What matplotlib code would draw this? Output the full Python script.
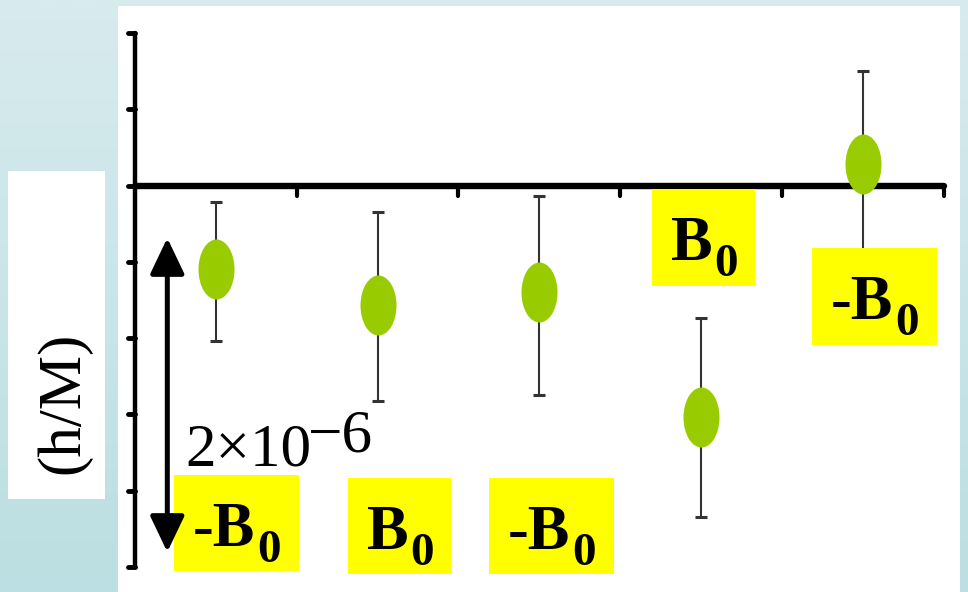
import numpy as np
import matplotlib
matplotlib.use("Agg")
import matplotlib.pyplot as plt
from matplotlib.path import Path
from matplotlib.markers import MarkerStyle, TICKLEFT, TICKDOWN
from matplotlib.patches import Rectangle, FancyArrowPatch, ArrowStyle
from matplotlib.transforms import Affine2D

# ---- data (units of 1e-6) ----
positions = [0.5, 1.5, 2.5, 3.5, 4.5]
field_labels = ["-B", "B", "-B", "B", "-B"]
values = [-0.55, -0.78, -0.70, -1.52, 0.14]
err_low = [0.47, 0.63, 0.67, 0.65, 0.61]
err_high = [0.44, 0.61, 0.63, 0.65, 0.61]
scale_text = "2\u00d710"
scale_exp = "\u22126"
y_label = "(h/M)"

W, H = 968, 592
fig = plt.figure(figsize=(W / 100, H / 100), dpi=100)

# ---- background: soft teal gradient and white panel ----
bg = fig.add_axes([0, 0, 1, 1], zorder=-5)
bg.set_xlim(0, W)
bg.set_ylim(H, 0)
bg.axis("off")
top_c = np.array([216, 235, 238]) / 255
bot_c = np.array([187, 223, 226]) / 255
t = np.linspace(0, 1, 256)[:, None]
grad = (top_c[None, :] * (1 - t) + bot_c[None, :] * t)[:, None, :]
bg.imshow(grad, extent=(0, W, H, 0), aspect="auto", interpolation="bilinear")
bg.add_patch(Rectangle((118, 6), 842, 586, facecolor="white", edgecolor="none"))
bg.add_patch(Rectangle((8, 171), 97, 328, facecolor="white", edgecolor="none"))
bg.text(63.5, 403, y_label, rotation=90, ha="center", va="center",
        family="Liberation Serif", fontsize=44, color="black")

# ---- main axes ----
x0, x1 = 135, 943.5
y0, y1 = 33, 567
ax = fig.add_axes([x0 / W, 1 - y1 / H, (x1 - x0) / W, (y1 - y0) / H], zorder=1)
ax.set_facecolor("none")
ax.set_xlim(0, 5)
ax.set_ylim(-2.5, 1.0)

for s in ("top", "right"):
    ax.spines[s].set_visible(False)
ax.spines["bottom"].set_position(("data", 0))
ax.spines["bottom"].set_linewidth(4.6)
ax.spines["left"].set_linewidth(3.2)
for s in ("bottom", "left"):
    ax.spines[s].set_capstyle("round")

ax.set_xticks([1, 2, 3, 4, 5])
ax.set_yticks(np.arange(-2.5, 1.01, 0.5))
ax.tick_params(axis="x", direction="out", length=7.5, width=3, labelbottom=False)
ax.tick_params(axis="y", direction="out", length=5, width=3.5, labelleft=False)
# rounded tick ends
for tk in ax.yaxis.get_major_ticks():
    tk.tick1line.set_marker(MarkerStyle(TICKLEFT, capstyle="round"))
for tk in ax.xaxis.get_major_ticks():
    tk.tick1line.set_marker(MarkerStyle(TICKDOWN, capstyle="round"))

ax.errorbar(positions, values, yerr=[err_low, err_high], fmt="none",
            ecolor="#333333", elinewidth=1.5, capsize=4.3, capthick=2.2, zorder=3)

ell = Path.unit_circle().transformed(Affine2D().scale(0.6, 1.0))
ax.plot(positions, values, linestyle="none", marker=MarkerStyle(ell),
        markersize=43.2, markerfacecolor="#99CC00", markeredgecolor="none",
        zorder=4)

# ---- overlay: field labels, scale arrow ----
ov = fig.add_axes([0, 0, 1, 1], zorder=5)
ov.set_xlim(0, W)
ov.set_ylim(H, 0)
ov.axis("off")
ov.patch.set_visible(False)

# label boxes (left, top, width, height) in pixels
boxes = [(174, 475, 125, 96), (348, 478, 103, 96), (489, 478, 125, 96),
         (652, 189, 103, 97), (812, 248, 125, 97)]
fig.canvas.draw()
renderer = fig.canvas.get_renderer()
for (bx, by, bw, bh), lab in zip(boxes, field_labels):
    ov.add_patch(Rectangle((bx, by), bw, bh, facecolor="#FFFF00",
                           edgecolor="none", zorder=1))
    txt = ov.text(bx + 19, by + 71, lab, ha="left", va="baseline",
                  family="Liberation Serif", fontweight="bold", fontsize=45,
                  color="black", zorder=2)
    ext = txt.get_window_extent(renderer)
    ov.text(ext.x1 + 2, by + 87, "0", ha="left", va="baseline",
            family="Liberation Serif", fontweight="bold", fontsize=34,
            color="black", zorder=2)

arrow = FancyArrowPatch((167.3, 552), (167.3, 238),
                        arrowstyle=ArrowStyle("<|-|>", head_length=22, head_width=10.5),
                        mutation_scale=1, linewidth=3.6, color="black",
                        shrinkA=0, shrinkB=0, zorder=3)
ov.add_patch(arrow)

ov.text(185, 465, scale_text, ha="left", va="baseline",
        family="Liberation Serif", fontsize=44, color="black", zorder=3)
ov.text(308, 452, scale_exp, ha="left", va="baseline",
        family="Liberation Serif", fontsize=44, color="black", zorder=3)

fig.savefig("out.png", dpi=100)
